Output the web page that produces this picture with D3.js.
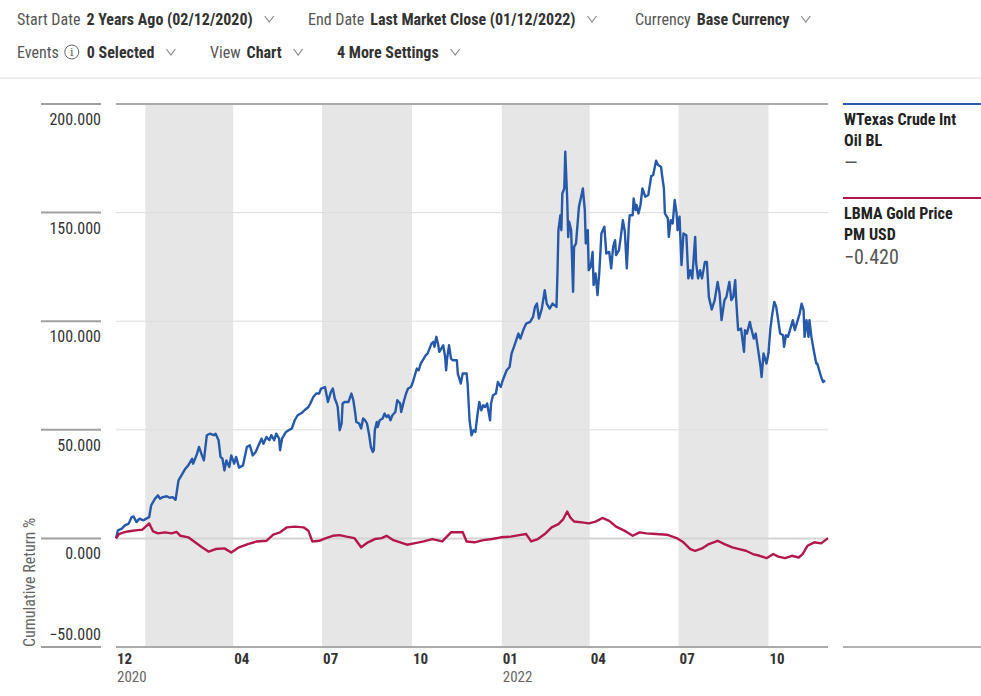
<!DOCTYPE html>
<html>
<head>
<meta charset="utf-8">
<script src="https://cdn.jsdelivr.net/npm/d3@7"></script>
<style>
body { margin: 0; background: #fff; }
svg { display: block; font-family: 'Roboto Condensed', 'Liberation Sans Narrow', 'DejaVu Sans Condensed', sans-serif; }
</style>
</head>
<body>
<div id="chart"></div>
<script>
'use strict';

// cumulative return %
var oil = [
  ['2020-12-02', 0], ['2020-12-04', 3.7], ['2020-12-08', 4.5], ['2020-12-11', 6], ['2020-12-15', 6.8],
  ['2020-12-18', 9.8], ['2020-12-20', 10.1], ['2020-12-23', 7.5], ['2020-12-26', 9.1], ['2020-12-30', 8.3],
  ['2021-01-02', 9.1], ['2021-01-05', 9.8], ['2021-01-07', 15.2], ['2021-01-11', 18.3], ['2021-01-14', 19.8],
  ['2021-01-16', 18.3], ['2021-01-19', 19], ['2021-01-23', 19.4], ['2021-01-26', 18.7], ['2021-01-29', 19],
  ['2021-02-01', 17.8], ['2021-02-04', 26.7], ['2021-02-07', 29], ['2021-02-11', 32.1], ['2021-02-14', 33.6],
  ['2021-02-18', 36.7], ['2021-02-19', 34.4], ['2021-02-23', 39], ['2021-02-25', 42.1], ['2021-02-28', 38.2],
  ['2021-03-02', 35.9], ['2021-03-05', 47.5], ['2021-03-08', 48.2], ['2021-03-12', 47.5], ['2021-03-14', 48.2],
  ['2021-03-17', 45.2], ['2021-03-19', 37.5], ['2021-03-21', 36.7], ['2021-03-23', 31.3], ['2021-03-25', 35.9],
  ['2021-03-28', 32.9], ['2021-03-30', 38.2], ['2021-04-02', 34.4], ['2021-04-04', 37.5], ['2021-04-07', 32.6],
  ['2021-04-11', 33.6], ['2021-04-15', 42.1], ['2021-04-18', 42.9], ['2021-04-21', 38.2], ['2021-04-24', 39.8],
  ['2021-04-27', 42.9], ['2021-04-30', 45.9], ['2021-05-02', 43.6], ['2021-05-05', 46.7], ['2021-05-08', 45.2],
  ['2021-05-10', 47.5], ['2021-05-13', 45.2], ['2021-05-15', 48.2], ['2021-05-18', 45.9], ['2021-05-19', 40.6],
  ['2021-05-21', 45.9], ['2021-05-24', 48.2], ['2021-05-25', 49], ['2021-05-29', 50.1], ['2021-05-31', 50.6],
  ['2021-06-03', 54.4], ['2021-06-06', 56.7], ['2021-06-10', 57.7], ['2021-06-13', 59], ['2021-06-17', 60.5],
  ['2021-06-19', 62.1], ['2021-06-22', 65.1], ['2021-06-25', 66.7], ['2021-06-28', 66.7], ['2021-06-30', 69],
  ['2021-07-04', 69.7], ['2021-07-07', 62.8], ['2021-07-10', 67.4], ['2021-07-12', 69], ['2021-07-14', 64.4],
  ['2021-07-16', 62.1], ['2021-07-17', 60.5], ['2021-07-19', 49.8], ['2021-07-21', 52.9], ['2021-07-22', 62.1],
  ['2021-07-24', 62.8], ['2021-07-28', 62.8], ['2021-07-31', 66.7], ['2021-08-02', 63.6], ['2021-08-04', 57.5],
  ['2021-08-05', 53.6], ['2021-08-08', 52.9], ['2021-08-10', 50.6], ['2021-08-12', 55.2], ['2021-08-14', 54.4],
  ['2021-08-16', 52.9], ['2021-08-18', 48.2], ['2021-08-20', 42.1], ['2021-08-22', 39.8], ['2021-08-23', 40.6],
  ['2021-08-24', 49.8], ['2021-08-26', 53.6], ['2021-08-27', 51.3], ['2021-08-29', 54.4], ['2021-09-01', 55.2],
  ['2021-09-03', 57.5], ['2021-09-05', 55.9], ['2021-09-07', 56.7], ['2021-09-09', 54.4], ['2021-09-11', 56.7],
  ['2021-09-14', 58.2], ['2021-09-16', 63.6], ['2021-09-19', 62.1], ['2021-09-20', 58.2], ['2021-09-23', 63.6],
  ['2021-09-25', 66.7], ['2021-09-27', 69], ['2021-09-30', 69.7], ['2021-10-02', 72], ['2021-10-04', 75.1],
  ['2021-10-06', 78.2], ['2021-10-08', 77.4], ['2021-10-10', 80.5], ['2021-10-12', 82], ['2021-10-15', 84.3],
  ['2021-10-17', 85.1], ['2021-10-19', 87.4], ['2021-10-21', 89.7], ['2021-10-23', 90.5], ['2021-10-24', 88.2],
  ['2021-10-26', 92.8], ['2021-10-28', 88.9], ['2021-10-29', 85.9], ['2021-11-02', 88.9], ['2021-11-04', 83.5],
  ['2021-11-05', 77.4], ['2021-11-06', 82.8], ['2021-11-08', 88.9], ['2021-11-10', 82.8], ['2021-11-12', 82],
  ['2021-11-16', 82], ['2021-11-17', 75.9], ['2021-11-20', 71.3], ['2021-11-22', 75.9], ['2021-11-26', 75.9],
  ['2021-11-27', 71.3], ['2021-11-29', 54.4], ['2021-12-01', 47.5], ['2021-12-03', 49.8], ['2021-12-05', 49],
  ['2021-12-07', 56.7], ['2021-12-09', 62.8], ['2021-12-11', 59], ['2021-12-13', 61.3], ['2021-12-15', 60.5],
  ['2021-12-17', 62.1], ['2021-12-20', 54.4], ['2021-12-21', 62.1], ['2021-12-23', 65.9], ['2021-12-26', 66.7],
  ['2021-12-28', 72], ['2021-12-31', 69.7], ['2022-01-02', 72.8], ['2022-01-06', 77.4], ['2022-01-09', 78.9],
  ['2022-01-11', 85.1], ['2022-01-14', 88.9], ['2022-01-18', 94.3], ['2022-01-20', 92], ['2022-01-23', 95.9],
  ['2022-01-26', 98.9], ['2022-01-30', 99.7], ['2022-02-02', 102], ['2022-02-04', 106.6], ['2022-02-06', 108.1],
  ['2022-02-08', 101.2], ['2022-02-11', 105.8], ['2022-02-14', 114.3], ['2022-02-16', 108.1], ['2022-02-19', 105.8],
  ['2022-02-22', 108.1], ['2022-02-26', 106.6], ['2022-02-27', 122], ['2022-02-28', 141.9], ['2022-03-02', 148.8],
  ['2022-03-03', 141.9], ['2022-03-04', 158.8], ['2022-03-06', 161.1], ['2022-03-07', 178], ['2022-03-09', 155.8],
  ['2022-03-10', 138.8], ['2022-03-11', 145.8], ['2022-03-13', 141.9], ['2022-03-15', 113.5], ['2022-03-16', 134.2],
  ['2022-03-18', 135.8], ['2022-03-21', 152.7], ['2022-03-24', 158.8], ['2022-03-25', 161.1], ['2022-03-27', 151.2],
  ['2022-03-28', 135.8], ['2022-03-30', 141.9], ['2022-03-31', 123.5], ['2022-04-02', 125], ['2022-04-04', 131.9],
  ['2022-04-05', 116.6], ['2022-04-07', 122], ['2022-04-09', 112], ['2022-04-11', 123.5], ['2022-04-13', 140.4],
  ['2022-04-16', 143.5], ['2022-04-18', 131.2], ['2022-04-21', 131.9], ['2022-04-23', 124.3], ['2022-04-25', 134.2],
  ['2022-04-27', 137.3], ['2022-04-28', 130.4], ['2022-05-01', 132.7], ['2022-05-04', 142.7], ['2022-05-05', 146.5],
  ['2022-05-07', 141.2], ['2022-05-09', 124.3], ['2022-05-11', 143.5], ['2022-05-12', 148.8], ['2022-05-15', 148.8],
  ['2022-05-16', 156.5], ['2022-05-18', 151.2], ['2022-05-19', 153.5], ['2022-05-21', 149.6], ['2022-05-23', 153.5],
  ['2022-05-25', 161.1], ['2022-05-28', 157.3], ['2022-05-31', 158.1], ['2022-06-03', 166.8], ['2022-06-05', 167.3],
  ['2022-06-08', 173.9], ['2022-06-10', 171.9], ['2022-06-13', 171.1], ['2022-06-15', 164.2], ['2022-06-16', 161.1],
  ['2022-06-17', 149.6], ['2022-06-20', 147.3], ['2022-06-21', 138.8], ['2022-06-23', 146.5], ['2022-06-25', 145],
  ['2022-06-27', 155.8], ['2022-06-29', 149.6], ['2022-06-30', 141.9], ['2022-07-02', 148.1], ['2022-07-04', 125.8],
  ['2022-07-06', 140.4], ['2022-07-09', 139.6], ['2022-07-11', 119.7], ['2022-07-13', 123.5], ['2022-07-15', 119.7],
  ['2022-07-18', 138.8], ['2022-07-19', 126.6], ['2022-07-21', 119.7], ['2022-07-23', 123.5], ['2022-07-25', 119.7],
  ['2022-07-28', 127.3], ['2022-07-30', 127.3], ['2022-08-01', 111.2], ['2022-08-04', 105.4], ['2022-08-07', 109.7],
  ['2022-08-10', 118.1], ['2022-08-12', 112.8], ['2022-08-14', 100.5], ['2022-08-17', 109.7], ['2022-08-19', 111.2],
  ['2022-08-22', 118.1], ['2022-08-24', 109.7], ['2022-08-26', 111.2], ['2022-08-28', 118.9], ['2022-08-29', 109.7],
  ['2022-08-31', 95.9], ['2022-09-03', 96.6], ['2022-09-06', 85.9], ['2022-09-07', 95.9], ['2022-09-09', 94.3],
  ['2022-09-12', 99.7], ['2022-09-13', 97.4], ['2022-09-16', 92], ['2022-09-18', 94.3], ['2022-09-20', 88.2],
  ['2022-09-23', 78.9], ['2022-09-24', 74.3], ['2022-09-26', 85.1], ['2022-09-29', 80.5], ['2022-10-01', 85.1],
  ['2022-10-03', 96.6], ['2022-10-05', 103.5], ['2022-10-07', 108.9], ['2022-10-09', 106.6], ['2022-10-11', 100.5],
  ['2022-10-13', 94.3], ['2022-10-16', 93.5], ['2022-10-17', 88.2], ['2022-10-19', 93.5], ['2022-10-21', 92.8],
  ['2022-10-24', 97.4], ['2022-10-26', 100.5], ['2022-10-28', 95.9], ['2022-10-30', 98.9], ['2022-11-02', 103.5],
  ['2022-11-04', 108.1], ['2022-11-06', 105.1], ['2022-11-07', 92.8], ['2022-11-09', 100.5], ['2022-11-11', 92.8],
  ['2022-11-12', 100.5], ['2022-11-14', 92.8], ['2022-11-17', 85.1], ['2022-11-19', 80.5], ['2022-11-20', 80.5],
  ['2022-11-22', 77.4], ['2022-11-24', 74.3], ['2022-11-26', 72], ['2022-11-28', 72.8]
];

var gold = [
  ['2020-12-02', 0], ['2020-12-05', 2], ['2020-12-10', 2.8], ['2020-12-14', 3.2], ['2020-12-19', 3.5],
  ['2020-12-24', 3.8], ['2020-12-29', 4], ['2021-01-05', 6.9], ['2021-01-09', 3.2], ['2021-01-14', 2.3],
  ['2021-01-21', 2.8], ['2021-01-28', 2.3], ['2021-02-02', 3], ['2021-02-06', 1.2], ['2021-02-14', 0.5],
  ['2021-02-21', -1.8], ['2021-02-28', -4.1], ['2021-03-07', -6.1], ['2021-03-14', -4.9], ['2021-03-23', -4.6],
  ['2021-03-30', -6.5], ['2021-04-07', -4.1], ['2021-04-16', -2.6], ['2021-04-25', -1.4], ['2021-05-05', -1.1],
  ['2021-05-12', 1.7], ['2021-05-19', 2.8], ['2021-05-26', 5.1], ['2021-06-03', 5.4], ['2021-06-12', 5.1],
  ['2021-06-17', 3.5], ['2021-06-21', -1.4], ['2021-06-28', -1.1], ['2021-07-05', 0.15], ['2021-07-12', 1.2],
  ['2021-07-19', 1.5], ['2021-07-26', 0.8], ['2021-08-03', 0.15], ['2021-08-10', -4.1], ['2021-08-17', -1.8],
  ['2021-08-24', -0.3], ['2021-08-31', 0.15], ['2021-09-05', 1.2], ['2021-09-12', -0.8], ['2021-09-19', -1.8],
  ['2021-09-26', -2.9], ['2021-10-03', -2.3], ['2021-10-13', -1.4], ['2021-10-22', -0.3], ['2021-11-01', -1.4],
  ['2021-11-10', 2.8], ['2021-11-22', 2.8], ['2021-11-26', -1.4], ['2021-12-04', -1.8], ['2021-12-13', -0.8],
  ['2021-12-22', -0.3], ['2021-12-31', 0.5], ['2022-01-10', 0.8], ['2022-01-19', 1.5], ['2022-01-26', 2],
  ['2022-01-31', -1.4], ['2022-02-07', -0.3], ['2022-02-14', 2], ['2022-02-21', 5.1], ['2022-02-28', 6.6],
  ['2022-03-05', 8.9], ['2022-03-09', 12.4], ['2022-03-12', 9.7], ['2022-03-16', 7.8], ['2022-03-24', 7.4],
  ['2022-03-31', 6.9], ['2022-04-07', 7.7], ['2022-04-14', 9.4], ['2022-04-21', 8.1], ['2022-04-28', 5.4],
  ['2022-05-08', 3.2], ['2022-05-15', 1.2], ['2022-05-22', 2.8], ['2022-05-29', 2.3], ['2022-06-08', 2],
  ['2022-06-19', 1.7], ['2022-06-29', 0.15], ['2022-07-06', -1.8], ['2022-07-13', -4.9], ['2022-07-18', -5.7],
  ['2022-07-25', -4.6], ['2022-08-01', -2.6], ['2022-08-10', -1.1], ['2022-08-17', -2.6], ['2022-08-25', -4.1],
  ['2022-09-01', -4.9], ['2022-09-08', -5.7], ['2022-09-15', -7.2], ['2022-09-22', -8], ['2022-09-29', -9.1],
  ['2022-10-06', -7.2], ['2022-10-11', -8.4], ['2022-10-18', -9.1], ['2022-10-25', -8], ['2022-11-01', -8.8],
  ['2022-11-05', -7.2], ['2022-11-10', -3.4], ['2022-11-17', -1.8], ['2022-11-24', -2.3], ['2022-12-01', 0.15]
];

var yTicks = [200, 150, 100, 50, 0, -50];
var xTicks = [
  ['2020-12-02', '12', '2020'], ['2021-04-01', '04', ''], ['2021-07-01', '07', ''], ['2021-10-01', '10', ''],
  ['2022-01-01', '01', '2022'], ['2022-04-01', '04', ''], ['2022-07-01', '07', ''], ['2022-10-01', '10', '']
];
var bands = [
  ['2021-01-01', '2021-04-01'], ['2021-07-01', '2021-10-01'],
  ['2022-01-01', '2022-04-01'], ['2022-07-01', '2022-10-01']
];
var seriesNames = [['WTexas Crude Int', 'Oil BL'], ['LBMA Gold Price', 'PM USD']];
var seriesValues = ['—', '−0.420'];
var seriesColors = ['#2659a9', '#b3174b'];
var settingsRow1 = [['Start Date', '2 Years Ago (02/12/2020)'], ['End Date', 'Last Market Close (01/12/2022)'], ['Currency', 'Base Currency']];
var settingsRow2 = [['Events', '0 Selected'], ['View', 'Chart'], ['', '4 More Settings']];

var W = 981, H = 696;
var parse = d3.timeParse('%Y-%m-%d');

var svg = d3.select('#chart').append('svg')
    .attr('width', W)
    .attr('height', H);

// --- settings bar
function drawRow(items, starts, y, infoIndex) {
    items.forEach(function(item, i) {
        var x = starts[i];
        if (item[0]) {
            var lab = svg.append('text')
                .attr('x', x).attr('y', y)
                .attr('font-size', 16).attr('fill', '#555')
                .text(item[0]);
            x += lab.node().getComputedTextLength() + 6;
        }
        if (i === infoIndex) {
            svg.append('circle').attr('cx', x + 7).attr('cy', y - 6).attr('r', 7)
                .attr('fill', 'none').attr('stroke', '#666').attr('stroke-width', 1);
            svg.append('text').attr('x', x + 7).attr('y', y - 2)
                .attr('font-size', 11).attr('fill', '#555').attr('text-anchor', 'middle')
                .attr('font-family', 'DejaVu Serif, serif')
                .text('i');
            x += 22;
        }
        var val = svg.append('text')
            .attr('x', x).attr('y', y)
            .attr('font-size', 16).attr('font-weight', 'bold').attr('fill', '#333')
            .text(item[1]);
        x += val.node().getComputedTextLength() + 12;
        svg.append('path')
            .attr('d', 'M' + x + ',' + (y - 9) + 'l4.5,6l4.5,-6')
            .attr('fill', 'none').attr('stroke', '#888').attr('stroke-width', 1.2);
    });
}
drawRow(settingsRow1, [17, 308, 635], 25, -1);
drawRow(settingsRow2, [17, 210, 337], 58, 0);

svg.append('line')
    .attr('x1', 0).attr('x2', W).attr('y1', 78).attr('y2', 78)
    .attr('stroke', '#eeeeee').attr('stroke-width', 2);

// --- scales
var x = d3.scaleTime()
    .domain([parse('2020-12-02'), parse('2022-12-01')])
    .range([116, 828]);
var y = d3.scaleLinear()
    .domain([-50, 200])
    .range([647, 104]);
var fmt = d3.format('.3f');

// quarter bands
svg.selectAll('rect.band')
    .data(bands)
    .enter().append('rect')
    .attr('class', 'band')
    .attr('x', function(d) { return x(parse(d[0])); })
    .attr('width', function(d) { return x(parse(d[1])) - x(parse(d[0])); })
    .attr('y', y(200))
    .attr('height', y(-50) - y(200))
    .attr('fill', '#e6e6e6');

// grid lines
svg.selectAll('line.grid')
    .data(yTicks.filter(function(d) { return d !== -50; }))
    .enter().append('line')
    .attr('class', 'grid')
    .attr('x1', 116).attr('x2', 828)
    .attr('y1', function(d) { return y(d); })
    .attr('y2', function(d) { return y(d); })
    .attr('stroke', function(d) { return d === 200 ? '#aaaaaa' : (d === 0 ? '#d4d4d4' : '#dddddd'); })
    .attr('stroke-width', function(d) { return d === 200 || d === 0 ? 2 : 1; });

svg.selectAll('line.ytick')
    .data(yTicks)
    .enter().append('line')
    .attr('class', 'ytick')
    .attr('x1', 41).attr('x2', 101)
    .attr('y1', function(d) { return y(d); })
    .attr('y2', function(d) { return y(d); })
    .attr('stroke', '#a0a0a0').attr('stroke-width', 2);

svg.selectAll('text.ylab')
    .data(yTicks)
    .enter().append('text')
    .attr('class', 'ylab')
    .attr('x', 101)
    .attr('y', function(d) { return d === -50 ? y(d) - 7 : y(d) + 21; })
    .attr('text-anchor', 'end')
    .attr('font-size', 16)
    .attr('fill', '#333')
    .text(function(d) { return fmt(d); });

svg.append('text')
    .attr('transform', 'translate(35,' + y(-50) + ') rotate(-90)')
    .attr('font-size', 16)
    .attr('fill', '#666')
    .text('Cumulative Return %');

// x axis
svg.append('line')
    .attr('x1', 116).attr('x2', 828).attr('y1', y(-50)).attr('y2', y(-50))
    .attr('stroke', '#aaaaaa').attr('stroke-width', 2);

var xt = svg.selectAll('g.xtick')
    .data(xTicks)
    .enter().append('g')
    .attr('class', 'xtick')
    .attr('transform', function(d) { return 'translate(' + (x(parse(d[0])) + 1) + ',0)'; });
xt.append('text')
    .attr('y', 664)
    .attr('font-size', 15)
    .attr('font-weight', 'bold')
    .attr('fill', '#333')
    .text(function(d) { return d[1]; });
xt.append('text')
    .attr('y', 682)
    .attr('font-size', 15)
    .attr('fill', '#666')
    .text(function(d) { return d[2]; });

// lines
var line = d3.line()
    .x(function(d) { return x(parse(d[0])); })
    .y(function(d) { return y(d[1]); });

[oil, gold].forEach(function(s, i) {
    svg.append('path')
        .datum(s)
        .attr('d', line)
        .attr('fill', 'none')
        .attr('stroke', seriesColors[i])
        .attr('stroke-width', 2.4)
        .attr('stroke-linejoin', 'round');
});

// legend column
var legTop = [104, 198];
seriesNames.forEach(function(name, i) {
    var g = svg.append('g').attr('transform', 'translate(843,' + legTop[i] + ')');
    g.append('line')
        .attr('x1', 0).attr('x2', W - 843).attr('y1', 0).attr('y2', 0)
        .attr('stroke', seriesColors[i]).attr('stroke-width', 2);
    g.append('text').attr('x', 1).attr('y', 21)
        .attr('font-size', 16).attr('font-weight', 'bold').attr('fill', '#222')
        .text(name[0]);
    g.append('text').attr('x', 1).attr('y', 42)
        .attr('font-size', 16).attr('font-weight', 'bold').attr('fill', '#222')
        .text(name[1]);
    g.append('text').attr('x', 1).attr('y', 66)
        .attr('font-size', 20).attr('fill', '#555')
        .text(seriesValues[i]);
});

svg.append('line')
    .attr('x1', 843).attr('x2', W).attr('y1', y(-50)).attr('y2', y(-50))
    .attr('stroke', '#666').attr('stroke-width', 1);
</script>
</body>
</html>
